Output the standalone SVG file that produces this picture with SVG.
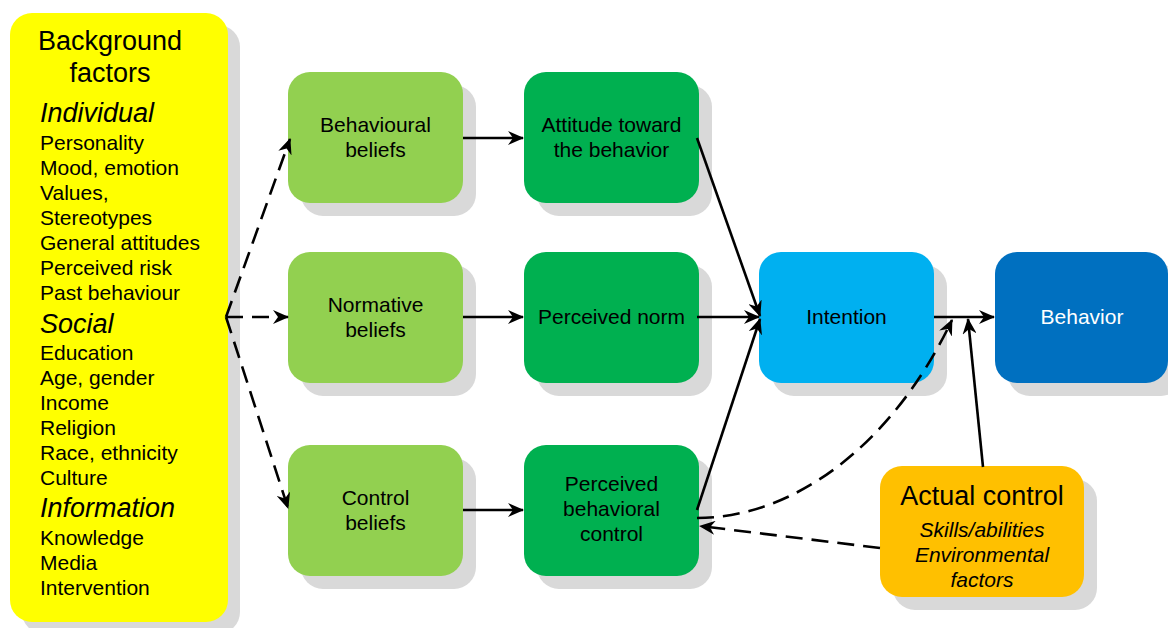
<svg xmlns="http://www.w3.org/2000/svg" width="1168" height="628" viewBox="0 0 1168 628">
<style>
  .shadow { fill: #D9D9D9; }
  .t { font-family: "Liberation Sans", Arial, sans-serif; font-size: 21px; fill: #000; }
  .c { text-anchor: middle; }
  .big { font-size: 27px; }
  .it { font-style: italic; }
  .ln { stroke: #000; stroke-width: 2.6; fill: none; }
  .dash { stroke-dasharray: 17 9; }
</style>
<defs>
  <marker id="ah" markerUnits="userSpaceOnUse" markerWidth="16" markerHeight="14" refX="15" refY="7" orient="auto">
    <path d="M0,0 L16,7 L0,14 L5,7 z" fill="#000"/>
  </marker>
</defs>
<rect width="1168" height="628" fill="#fff"/>

<g id="background">
  <rect class="shadow" x="22" y="25" width="218" height="609" rx="22"/>
  <rect x="10" y="13" width="218" height="609" rx="22" fill="#FFFF00"/>
  <text class="t big c" x="110" y="50">Background</text>
  <text class="t big c" x="110" y="82">factors</text>
  <text class="t big it" x="40" y="122">Individual</text>
  <text class="t" x="40" y="150">Personality</text>
  <text class="t" x="40" y="175">Mood, emotion</text>
  <text class="t" x="40" y="200">Values,</text>
  <text class="t" x="40" y="225">Stereotypes</text>
  <text class="t" x="40" y="250">General attitudes</text>
  <text class="t" x="40" y="275">Perceived risk</text>
  <text class="t" x="40" y="300">Past behaviour</text>
  <text class="t big it" x="40" y="333">Social</text>
  <text class="t" x="40" y="360">Education</text>
  <text class="t" x="40" y="385">Age, gender</text>
  <text class="t" x="40" y="410">Income</text>
  <text class="t" x="40" y="435">Religion</text>
  <text class="t" x="40" y="460">Race, ethnicity</text>
  <text class="t" x="40" y="485">Culture</text>
  <text class="t big it" x="40" y="517">Information</text>
  <text class="t" x="40" y="545">Knowledge</text>
  <text class="t" x="40" y="570">Media</text>
  <text class="t" x="40" y="595">Intervention</text>
</g>

<g id="behavioural-beliefs">
  <rect class="shadow" x="301" y="85" width="175" height="131" rx="22"/>
  <rect x="288" y="72" width="175" height="131" rx="22" fill="#92D050"/>
  <text class="t c" x="375.5" y="132">Behavioural</text>
  <text class="t c" x="375.5" y="157">beliefs</text>
</g>
<g id="normative-beliefs">
  <rect class="shadow" x="301" y="265" width="175" height="131" rx="22"/>
  <rect x="288" y="252" width="175" height="131" rx="22" fill="#92D050"/>
  <text class="t c" x="375.5" y="312">Normative</text>
  <text class="t c" x="375.5" y="337">beliefs</text>
</g>
<g id="control-beliefs">
  <rect class="shadow" x="301" y="458" width="175" height="131" rx="22"/>
  <rect x="288" y="445" width="175" height="131" rx="22" fill="#92D050"/>
  <text class="t c" x="375.5" y="505">Control</text>
  <text class="t c" x="375.5" y="530">beliefs</text>
</g>

<g id="attitude">
  <rect class="shadow" x="537" y="85" width="175" height="131" rx="22"/>
  <rect x="524" y="72" width="175" height="131" rx="22" fill="#00B050"/>
  <text class="t c" x="611.5" y="132">Attitude toward</text>
  <text class="t c" x="611.5" y="157">the behavior</text>
</g>
<g id="perceived-norm">
  <rect class="shadow" x="537" y="265" width="175" height="131" rx="22"/>
  <rect x="524" y="252" width="175" height="131" rx="22" fill="#00B050"/>
  <text class="t c" x="611.5" y="324">Perceived norm</text>
</g>
<g id="pbc">
  <rect class="shadow" x="537" y="458" width="175" height="131" rx="22"/>
  <rect x="524" y="445" width="175" height="131" rx="22" fill="#00B050"/>
  <text class="t c" x="611.5" y="491">Perceived</text>
  <text class="t c" x="611.5" y="516">behavioral</text>
  <text class="t c" x="611.5" y="541">control</text>
</g>

<g id="intention">
  <rect class="shadow" x="772" y="265" width="175" height="131" rx="22"/>
  <rect x="759" y="252" width="175" height="131" rx="22" fill="#00B0F0"/>
  <text class="t c" x="846.5" y="324">Intention</text>
</g>
<g id="behavior">
  <rect class="shadow" x="1008" y="265" width="175" height="131" rx="22"/>
  <rect x="995" y="252" width="173" height="131" rx="22" fill="#0070C0"/>
  <text class="t c" x="1082" y="324" style="fill:#fff">Behavior</text>
</g>

<g id="actual-control">
  <rect class="shadow" x="893" y="479" width="204" height="131" rx="22"/>
  <rect x="880" y="466" width="204" height="131" rx="22" fill="#FFC000"/>
  <text class="t big c" x="982" y="505">Actual control</text>
  <text class="t it c" x="982" y="537">Skills/abilities</text>
  <text class="t it c" x="982" y="562">Environmental</text>
  <text class="t it c" x="982" y="587">factors</text>
</g>

<g id="connectors">
  <path class="ln dash" d="M226,317 L290,139" marker-end="url(#ah)"/>
  <path class="ln dash" d="M226,317 L288,317" marker-end="url(#ah)"/>
  <path class="ln dash" d="M226,317 L288,508" marker-end="url(#ah)"/>
  <path class="ln" d="M463,138 L523,138" marker-end="url(#ah)"/>
  <path class="ln" d="M463,317 L523,317" marker-end="url(#ah)"/>
  <path class="ln" d="M463,510 L523,510" marker-end="url(#ah)"/>
  <path class="ln" d="M697,138 L760,316" marker-end="url(#ah)"/>
  <path class="ln" d="M697,317 L759,317" marker-end="url(#ah)"/>
  <path class="ln" d="M697,510 L760,319" marker-end="url(#ah)"/>
  <path class="ln" d="M934,317 L994,317" marker-end="url(#ah)"/>
  <path class="ln" d="M983,467 L968,319" marker-end="url(#ah)"/>
  <path class="ln dash" d="M697,518 C790,518 890,450 952,320" marker-end="url(#ah)"/>
  <path class="ln dash" d="M880,548 L700,526" marker-end="url(#ah)"/>
</g>
</svg>
